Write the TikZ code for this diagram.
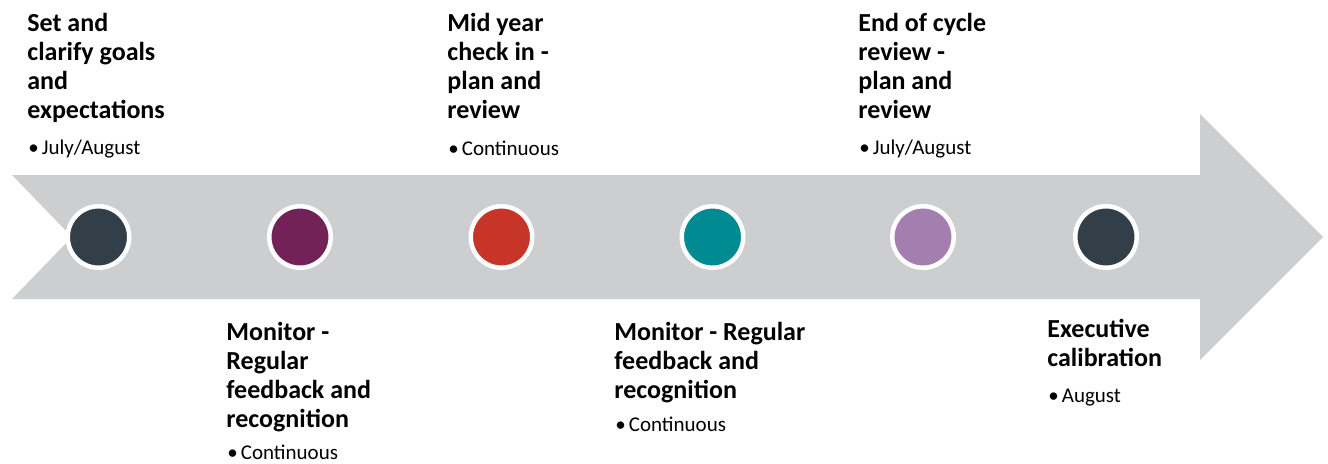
\documentclass[tikz,border=0pt]{standalone}
\usepackage{fontspec}
\setmainfont{Carlito}
\usepackage{xcolor}
\definecolor{shaftgrey}{RGB}{205,206,208}
\definecolor{slatedark}{RGB}{51,63,72}
\definecolor{plum}{RGB}{114,34,87}
\definecolor{brick}{RGB}{198,53,39}
\definecolor{tealdot}{RGB}{0,139,146}
\definecolor{lavender}{RGB}{165,126,176}

\begin{document}
\begin{tikzpicture}[
    x=0.5pt, y=-0.5pt,
    dot/.style={circle, draw=white, line width=2.25pt, minimum size=30.75pt,
        inner sep=0pt},
    title/.style={anchor=base west, align=left, inner sep=0pt,
        font=\bfseries\fontsize{13}{14.5}\selectfont},
    note/.style={anchor=base west, inner sep=0pt,
        font=\fontsize{10.5}{12}\selectfont}
]
    \useasboundingbox (0,0) rectangle (1328,463);

    % the timeline arrow
    \fill[shaftgrey] (12,175) -- (1200,175) -- (1200,114) -- (1323,237)
        -- (1200,360) -- (1200,299) -- (12,299) -- (72,237) -- cycle;

    % milestones
    \node[dot, fill=slatedark] (m1) at (98.5,237) {};
    \node[dot, fill=plum] (m2) at (300,237) {};
    \node[dot, fill=brick] (m3) at (501.5,237) {};
    \node[dot, fill=tealdot] (m4) at (712.5,237) {};
    \node[dot, fill=lavender] (m5) at (923,237) {};
    \node[dot, fill=slatedark] (m6) at (1106,237) {};

    % labels above (placed by the baseline of their last line)
    \node[title] (goals) at (27,118) {Set and\\clarify goals\\and\\expectations};
    \node[note] (goalsdate) at (28,154) {\textbullet\hspace{1.5pt}July/August};
    \node[title] (midyear) at (447,118) {Mid year\\check in -\\plan and\\review};
    \node[note] (midyeardate) at (448,155) {\textbullet\hspace{1.5pt}Continuous};
    \node[title] (endcycle) at (858,118) {End of cycle\\review -\\plan and\\review};
    \node[note] (endcycledate) at (859,154) {\textbullet\hspace{1.5pt}July/August};

    % labels below
    \node[title] (monitora) at (226,427) {Monitor -\\Regular\\feedback and\\recognition};
    \node[note] (monitoradate) at (227,459) {\textbullet\hspace{1.5pt}Continuous};
    \node[title] (monitorb) at (614,398) {Monitor - Regular\\feedback and\\recognition};
    \node[note] (monitorbdate) at (615,431) {\textbullet\hspace{1.5pt}Continuous};
    \node[title] (calib) at (1047,366) {Executive\\calibration};
    \node[note] (calibdate) at (1048,402) {\textbullet\hspace{1.5pt}August};
\end{tikzpicture}
\end{document}
